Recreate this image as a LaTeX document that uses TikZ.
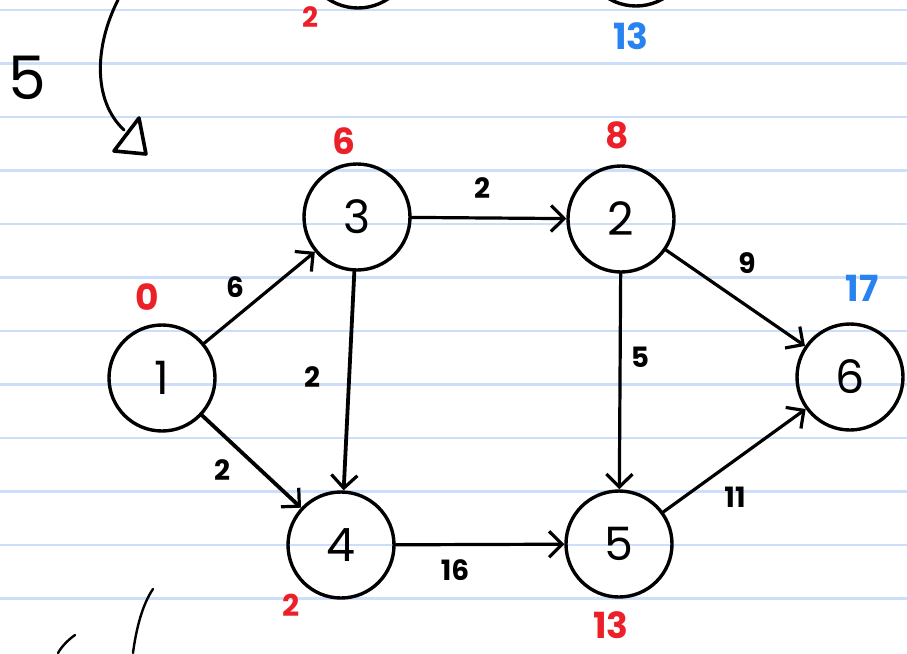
\documentclass[tikz,border=0pt]{standalone}
\usepackage{fontspec}
\setmainfont{Poppins}
\usetikzlibrary{arrows.meta}
\definecolor{paperline}{RGB}{204,222,250}
\definecolor{hred}{RGB}{236,32,40}
\definecolor{hblue}{RGB}{40,130,240}
\tikzset{
  vert/.style={circle, draw=black, line width=3.4pt, minimum size=106pt, inner sep=0pt,
    font=\fontsize{46}{46}\selectfont},
  edge/.style={line width=3.2pt, line cap=round, -{Straight Barb[length=13pt,width=26pt,line width=3.2pt]}},
  wlabel/.style={font=\fontsize{28}{28}\selectfont\bfseries, inner sep=0pt},
  redlab/.style={text=hred, font=\fontsize{36}{36}\selectfont\bfseries, inner sep=0pt},
  bluelab/.style={text=hblue, font=\fontsize{36}{36}\selectfont\bfseries, inner sep=0pt},
  stroke/.style={line width=3pt, line cap=round, line join=round}
}
\begin{document}
\begin{tikzpicture}[x=1pt,y=-1pt]
\useasboundingbox (0,0) rectangle (907,653);
\fill[white] (0,0) rectangle (907,653);
% ruled paper lines
\foreach \k in {0,...,11}{
  \draw[paperline, line width=2.6pt] (0,{10+53.5*\k}) -- (907,{10+53.5*\k});
}
% partial circles at top (previous drawing)
\draw[line width=3.4pt] (358,-46) circle (54pt);
\draw[line width=3.4pt] (636,-48) circle (54pt);
\node[redlab, font=\fontsize{28}{28}\selectfont\bfseries] (t2) at (310,17) {2};
\node[bluelab] (t13) at (631,36) {13};
% step marker on the left
\node[inner sep=0pt, font=\fontsize{60}{60}\selectfont] (step5) at (27,78) {5};
\draw[stroke] (118,0) .. controls (95,45) and (92,100) .. (124,130);
\draw[stroke, line width=3.6pt] (139,118) -- (114,151) -- (146,154) -- cycle;
% bottom-left strokes (next drawing)
\draw[stroke, line width=2.4pt] (153,589) .. controls (142,605) and (136,630) .. (133,653);
\draw[stroke, line width=2.4pt] (75,635) .. controls (68,640) and (62,646) .. (58,653);
% vertices
\node[vert] (n1) at (162,378) {1};
\node[vert] (n3) at (357,217) {3};
\node[vert] (n2) at (621,219) {2};
\node[vert] (n6) at (850,377) {6};
\node[vert] (n4) at (341,545) {4};
\node[vert] (n5) at (619,544) {5};
% edges
\draw[edge] (n1) -- (n3);
\draw[edge, line width=3.8pt] (n1) -- (n4);
\draw[edge] (n3) -- (n2);
\draw[edge, line width=3.8pt] (n3) -- (n4);
\draw[edge] (n2) -- (n6);
\draw[edge] (n2) -- (n5);
\draw[edge] (n4) -- (n5);
\draw[edge] (n5) -- (n6);
% weights
\node[wlabel] (w13) at (235,287) {6};
\node[wlabel] (w32) at (482,188) {2};
\node[wlabel] (w34) at (312,377) {2};
\node[wlabel] (w14) at (222,470) {2};
\node[wlabel] (w26) at (747,263) {9};
\node[wlabel] (w25) at (640,357) {5};
\node[wlabel] (w45) at (455,570) {16};
\node[wlabel] (w56) at (735,497) {11};
% distance labels
\node[redlab] (d1) at (147,297) {0};
\node[redlab] (d3) at (344,141) {6};
\node[redlab] (d2) at (617,135) {8};
\node[bluelab] (d6) at (862,288) {17};
\node[redlab, font=\fontsize{30}{30}\selectfont\bfseries] (d4) at (291,605) {2};
\node[redlab] (d5) at (611,625) {13};
\end{tikzpicture}
\end{document}
